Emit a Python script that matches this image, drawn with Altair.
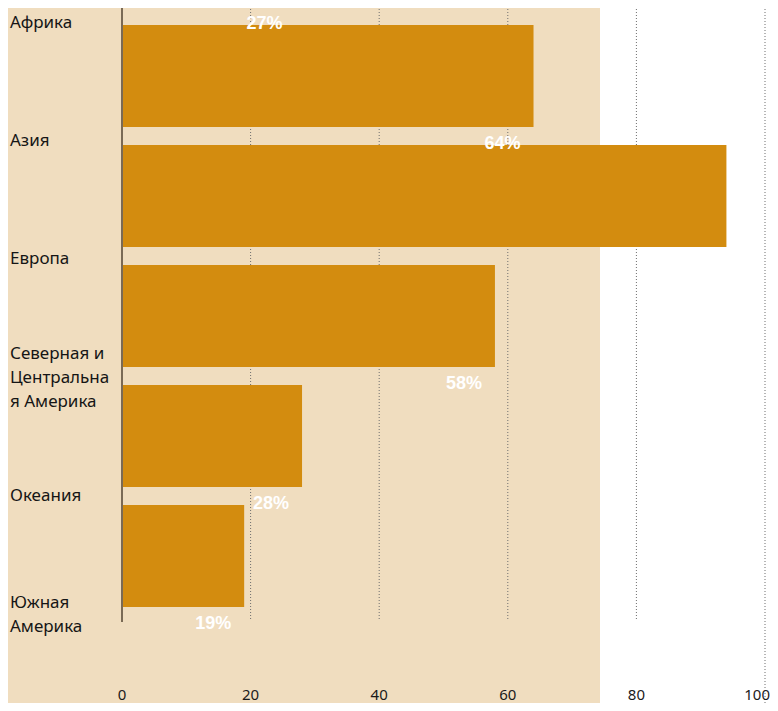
import altair as alt
import pandas as pd

# ---- data ----
regions = ["Африка", "Азия", "Европа", "Северная и Центральная Америка", "Океания", "Южная Америка"]
region_labels = ["Африка", "Азия", "Европа", "Северная  и\nЦентральна\nя  Америка", "Океания", "Южная\nАмерика"]
values = [27, 64, 94, 58, 28, 19]
ticks = [0, 20, 40, 60, 80, 100]
title_text = "по регионам, 2003 год"

df = pd.DataFrame({
    "region": regions,
    "label": region_labels,
    "value": values,
    "pct": [f"{v}%" for v in values],
})
tick_df = pd.DataFrame({"t": ticks})
one = pd.DataFrame({"a": [0]})

W, H = 762, 695
LINE_H = 24
x_scale = alt.Scale(domain=[0, 100], range=[114, 757])
y_scale = alt.Scale(domain=regions, range=[-112, 608], paddingInner=0.15, paddingOuter=0.075)
label_scale = alt.Scale(type="point", domain=regions, range=[14.5, 606.5], padding=0)

BAR = "#d38c0f"
BEIGE = "#f0ddbf"

bg = alt.Chart(one).mark_rect(color=BEIGE).encode(
    x=alt.value(-8), x2=alt.value(592), y=alt.value(-8), y2=alt.value(703)
)

grid = alt.Chart(tick_df).transform_filter("datum.t > 0 && datum.t < 100").mark_rule(
    color="#6e6e6e", strokeDash=[1, 2], strokeWidth=1
).encode(
    x=alt.X("t:Q", scale=x_scale, axis=None), y=alt.value(-8), y2=alt.value(612)
)
grid100 = alt.Chart(tick_df).transform_filter("datum.t == 100").mark_rule(
    color="#6e6e6e", strokeDash=[1, 2], strokeWidth=1
).encode(
    x=alt.X("t:Q", scale=x_scale, axis=None), y=alt.value(-8), y2=alt.value(703)
)

bars = alt.Chart(df).mark_bar(color=BAR).encode(
    x=alt.X("value:Q", scale=x_scale, axis=None),
    y=alt.Y("region:N", scale=y_scale, axis=None, sort=regions),
)

title = alt.Chart(one).mark_text(
    text=title_text, align="left", baseline="alphabetic", font="Noto Sans",
    fontSize=24, fontWeight="bold", color="#e0901a"
).encode(x=alt.value(2), y=alt.value(-9))

axis_line = alt.Chart(tick_df).transform_filter("datum.t == 0").mark_rule(
    color="#7a6a55", strokeWidth=2
).encode(
    x=alt.X("t:Q", scale=x_scale, axis=None), y=alt.value(-8), y2=alt.value(614)
)

cat_labels = alt.Chart(df).transform_calculate(
    nl="length(split(datum.label, '\\n'))",
    off=f"-(datum.nl - 1) * {LINE_H} / 2",
).mark_text(
    align="left", baseline="middle", font="Noto Sans", fontSize=17,
    lineBreak="\n", lineHeight=LINE_H, color="#151515"
).encode(
    x=alt.value(2),
    y=alt.Y("region:N", scale=label_scale, axis=None, sort=regions),
    yOffset=alt.YOffset("off:Q", scale=None),
    text="label:N",
)

pct_labels = alt.Chart(df).mark_text(
    align="center", baseline="middle", dx=-31, dy=68, font="Liberation Sans",
    fontSize=18, fontWeight="bold", color="white"
).encode(
    x=alt.X("value:Q", scale=x_scale, axis=None),
    y=alt.Y("region:N", scale=y_scale, axis=None, sort=regions),
    text="pct:N",
)

tick_labels = alt.Chart(tick_df).transform_filter("datum.t < 100").mark_text(
    align="center", baseline="middle", font="Noto Sans", fontSize=15, color="#1a1a1a"
).encode(
    x=alt.X("t:Q", scale=x_scale, axis=None),
    y=alt.value(687),
    text="t:Q",
)
tick_label_last = alt.Chart(tick_df).transform_filter("datum.t == 100").mark_text(
    align="right", baseline="middle", dx=5, font="Noto Sans", fontSize=15, color="#1a1a1a"
).encode(
    x=alt.X("t:Q", scale=x_scale, axis=None),
    y=alt.value(687),
    text="t:Q",
)

chart = alt.layer(
    bg, grid, grid100, bars, title, axis_line, cat_labels, pct_labels,
    tick_labels, tick_label_last
).resolve_scale(y="independent").properties(
    width=W, height=H, autosize=alt.AutoSizeParams(type="none"), padding=0,
    background="white"
).configure_view(stroke=None)

chart.save("out.html", embed_options={"renderer": "svg", "actions": False})
